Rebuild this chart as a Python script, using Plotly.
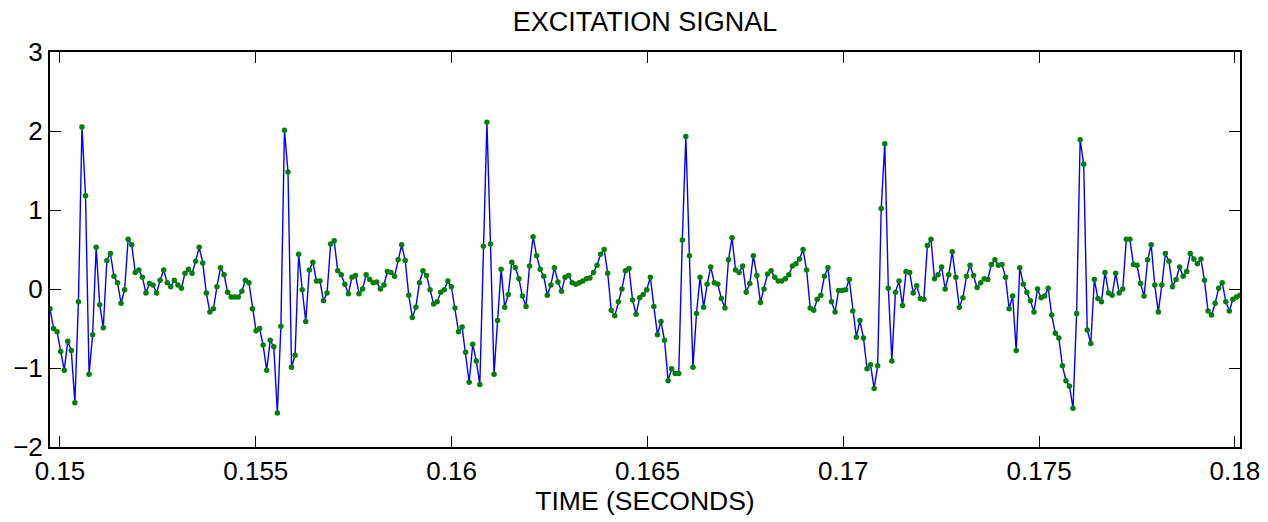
import numpy as np
import plotly.graph_objects as go

# Sampling of the excitation signal
t_start = 0.149745
fs = 11025.0

signal = [
    -0.25, -0.50, -0.54, -0.79, -1.03, -0.66, -0.78, -1.44, -0.16, 2.05,
    1.18, -1.08, -0.58, 0.53, -0.20, -0.49, 0.36, 0.45, 0.16, 0.08,
    -0.18, -0.01, 0.63, 0.56, 0.21, 0.24, 0.15, -0.05, 0.07, 0.05,
    -0.05, 0.11, 0.24, 0.08, 0.03, 0.11, 0.05, 0.01, 0.20, 0.25,
    0.20, 0.35, 0.53, 0.33, -0.05, -0.29, -0.25, 0.03, 0.27, 0.18,
    -0.04, -0.10, -0.10, -0.10, -0.03, 0.11, 0.08, -0.25, -0.53, -0.50,
    -0.71, -1.03, -0.65, -0.73, -1.57, -0.47, 2.01, 1.48, -0.99, -0.84,
    0.44, -0.01, -0.41, 0.24, 0.34, 0.10, 0.10, -0.15, -0.05, 0.57,
    0.61, 0.23, 0.18, 0.06, -0.06,
    0.15, 0.17, -0.06, 0.00, 0.18, 0.12, 0.08, 0.09, 0.00, 0.05,
    0.22, 0.21, 0.16, 0.37, 0.56, 0.36, -0.08, -0.36, -0.23, 0.08,
    0.23, 0.17, -0.01, -0.19, -0.16,
    -0.04, -0.01, 0.10, 0.03, -0.24, -0.54, -0.48, -0.80, -1.18, -0.70,
    -0.91, -1.21, 0.54, 2.11, 0.57, -1.08, -0.40, 0.25, -0.23, -0.07,
    0.34, 0.27, 0.13, -0.09, -0.22,
    0.29, 0.66, 0.42, 0.25, 0.16, -0.08, 0.05, 0.27, 0.09, -0.03,
    0.15, 0.17, 0.08, 0.06, 0.08, 0.10, 0.13, 0.14, 0.21, 0.30,
    0.44, 0.50, 0.20, -0.27, -0.34,
    -0.16, 0.00, 0.23, 0.26, -0.14, -0.32, -0.11, -0.07, -0.01, 0.15,
    -0.22, -0.58, -0.41, -0.65, -1.16, -1.01, -1.07, -1.07, 0.62, 1.93,
    0.42, -0.99, -0.31, 0.15, -0.23,
    0.06, 0.28, 0.08, 0.06, -0.12, -0.24, 0.37, 0.65, 0.24, 0.21,
    0.29, -0.04, 0.07, 0.42, 0.17, -0.17, 0.00, 0.19, 0.23, 0.15,
    0.10, 0.10, 0.13, 0.18,
    0.29, 0.32, 0.38, 0.50, 0.24, -0.24, -0.27, -0.13, -0.08, 0.16,
    0.27, -0.16, -0.29, -0.02, -0.02, -0.01, 0.12, -0.28, -0.61, -0.40,
    -0.62, -1.01, -0.96, -1.26, -0.97,
    1.02, 1.84, 0.01, -0.91, -0.04, 0.10, -0.21, 0.22, 0.21, -0.05,
    0.04, -0.12, -0.13, 0.55, 0.63, 0.13, 0.18, 0.28, 0.00, 0.18,
    0.47, 0.15, -0.23, -0.11, 0.16,
    0.30, 0.17, 0.02, 0.08, 0.13, 0.12, 0.31, 0.37, 0.30, 0.31,
    0.15, -0.25, -0.09, -0.78, 0.27, 0.06, -0.04, -0.15, -0.29, 0.00,
    -0.11, -0.09, 0.01, -0.33, -0.56,
    -0.62, -0.97, -1.16, -1.23, -1.51, -0.31, 1.89, 1.58, -0.52, -0.69,
    0.12, -0.12, -0.16, 0.21, -0.05, -0.08, 0.20, -0.05, 0.00, 0.63,
    0.63, 0.31, 0.30, 0.07, -0.09, 0.37, 0.56, 0.05, -0.29, 0.05,
    0.45, 0.35, 0.03, 0.12, 0.28, 0.16, 0.22, 0.45, 0.38, 0.32,
    0.38, 0.11, -0.28, -0.33, -0.18, 0.01, 0.08, -0.16, -0.28, -0.13,
    -0.10, -0.08,
]

x_tick_vals = [0.15, 0.155, 0.16, 0.165, 0.17, 0.175, 0.18]
x_tick_text = ["0.15", "0.155", "0.16", "0.165", "0.17", "0.175", "0.18"]
y_tick_vals = [-2, -1, 0, 1, 2, 3]
y_tick_text = ["\u22122", "\u22121", "0", "1", "2", "3"]

time = t_start + np.arange(len(signal)) / fs

FONT = "Liberation Sans, Arial, sans-serif"

# the page body adds an 8px offset, so the figure is 8px smaller than the window
W, H = 1260, 514

fig = go.Figure()
fig.add_trace(go.Scatter(
    x=time, y=signal, mode="lines+markers",
    line=dict(color="#0000ff", width=1.4),
    marker=dict(color="#008000", size=5.5, line=dict(width=0)),
    showlegend=False,
))

fig.update_layout(
    width=W, height=H,
    margin=dict(l=42, r=28, t=44, b=75, autoexpand=False),
    paper_bgcolor="white", plot_bgcolor="white",
    font=dict(family=FONT, size=26, color="black"),
    title=dict(text="EXCITATION SIGNAL", x=0.5, xref="paper", xanchor="center",
               y=1 - 14 / H, yref="container", yanchor="middle",
               font=dict(family=FONT, size=27, color="black")),
)
fig.update_xaxes(
    range=[time[0], time[-1]], tickvals=x_tick_vals, ticktext=x_tick_text,
    ticks="inside", ticklen=11, tickwidth=1, tickcolor="black",
    showline=True, linecolor="black", linewidth=2, mirror="ticks",
    showgrid=False, zeroline=False, automargin=False,
    tickfont=dict(family=FONT, size=26),
    title=dict(text="TIME (SECONDS)", font=dict(family=FONT, size=26.5), standoff=5),
)
fig.update_yaxes(
    range=[-2, 3], tickvals=y_tick_vals, ticktext=y_tick_text,
    ticks="inside", ticklen=11, tickwidth=1, tickcolor="black",
    showline=True, linecolor="black", linewidth=2, mirror="ticks",
    showgrid=False, zeroline=False, automargin=False,
    tickfont=dict(family=FONT, size=26),
)

fig.write_html("out.html")
